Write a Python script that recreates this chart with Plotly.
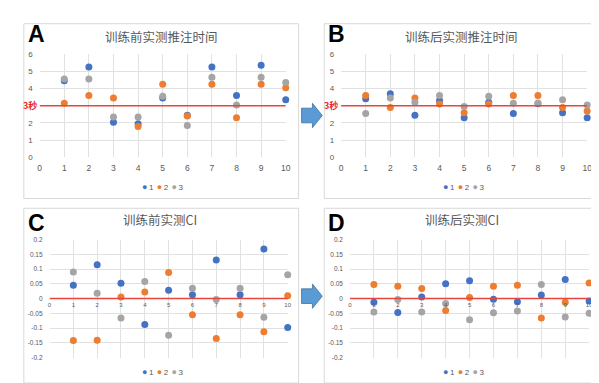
import plotly.graph_objects as go

W, H = 599, 383

# ---------------- data ----------------
xs = [1, 2, 3, 4, 5, 6, 7, 8, 9, 10]
series_names = ["1", "2", "3"]
colors = ["#4472C4", "#ED7D31", "#A5A5A5"]

A1 = [4.45, 5.25, 2.05, 1.95, 3.45, 2.45, 5.25, 3.6, 5.35, 3.35]
A2 = [3.15, 3.6, 3.45, 1.8, 4.25, 2.4, 4.25, 2.3, 4.25, 4.05]
A3 = [4.55, 4.55, 2.35, 2.35, 3.55, 1.85, 4.65, 3.05, 4.65, 4.35]

B1 = [3.4, 3.7, 2.45, 3.3, 2.3, 3.2, 2.55, 3.12, 2.6, 2.3]
B2 = [3.6, 2.9, 3.45, 3.1, 2.6, 3.1, 3.6, 3.6, 2.9, 2.7]
B3 = [2.55, 3.45, 3.2, 3.6, 2.95, 3.55, 3.15, 3.16, 3.35, 3.05]

C1 = [0.045, 0.115, 0.052, -0.088, 0.028, 0.013, 0.131, 0.013, 0.168, -0.098]
C2 = [-0.142, -0.141, 0.005, 0.022, 0.088, -0.055, -0.135, -0.055, -0.112, 0.01]
C3 = [0.09, 0.018, -0.066, 0.058, -0.124, 0.035, -0.003, 0.035, -0.063, 0.081]

D1 = [-0.012, -0.047, 0.005, 0.05, 0.06, -0.002, -0.011, 0.012, 0.065, -0.008]
D2 = [0.048, 0.042, 0.034, -0.04, 0.004, 0.042, 0.045, -0.066, -0.012, 0.053]
D3 = [-0.045, -0.003, -0.045, -0.017, -0.072, -0.048, -0.042, 0.048, -0.062, -0.05]

titles = ["训练前实测推注时间", "训练后实测推注时间", "训练前实测CI", "训练后实测CI"]
letters = ["A", "B", "C", "D"]
time_ticks = [0, 1, 2, 3, 4, 5, 6]
time_ticktext = ["0", "1", "2", "", "4", "5", "6"]
ci_ticks = [-0.2, -0.15, -0.1, -0.05, 0, 0.05, 0.1, 0.15, 0.2]
ci_ticktext = ["-0.2", "-0.15", "-0.1", "-0.05", "0", "0.05", "0.1", "0.15", "0.2"]
x_ticks = [0, 1, 2, 3, 4, 5, 6, 7, 8, 9, 10]
threshold_time = 3
threshold_ci = 0
threshold_label = "3秒"

# ---------------- layout helpers ----------------
def px_x(p):
    return p / W

def px_y(p):
    return 1 - p / H

panels = [
    dict(data=[A1, A2, A3], plot=(30, 279, 43, 149), frame=(14, 292, 12, 191),
         tcx=153, tcy=25, lx=16, ly=23, lgx=154, lgy=179, kind="time"),
    dict(data=[B1, B2, B3], plot=(335, 584, 43, 149), frame=(318, 596, 12, 191),
         tcx=457, tcy=25, lx=320, ly=23, lgx=459, lgy=179, kind="time"),
    dict(data=[C1, C2, C3], plot=(40, 281, 233, 354), frame=(14, 292, 201, 380),
         tcx=152, tcy=213, lx=16, ly=216, lgx=154, lgy=369, kind="ci"),
    dict(data=[D1, D2, D3], plot=(344, 586, 233, 354), frame=(318, 596, 201, 380),
         tcx=457, tcy=213, lx=320, ly=216, lgx=459, lgy=369, kind="ci"),
]

fig = go.Figure()
shapes = []
annotations = []
layout_axes = {}
grid_c = "#E1E1E1"
tick_c = "#595959"
num_font = "Liberation Sans, Arial, sans-serif"
cjk_font = "Noto Sans CJK SC, sans-serif"

legend_text = "&#8201;&#8201;".join(
    f"<span style='color:{c}; font-size:9px'>●</span>&#8201;{n}" for n, c in zip(series_names, colors)
)

for i, p in enumerate(panels):
    k = i + 1
    xa = "x" if k == 1 else f"x{k}"
    ya = "y" if k == 1 else f"y{k}"
    xkey = "xaxis" if k == 1 else f"xaxis{k}"
    ykey = "yaxis" if k == 1 else f"yaxis{k}"
    l, r, t, b = p["plot"]

    # frame
    fl, fr, ft, fb = p["frame"]
    shapes.append(dict(type="rect", xref="paper", yref="paper",
                       x0=px_x(fl), x1=px_x(fr), y0=px_y(fb), y1=px_y(ft),
                       line=dict(color="#D9D9D9", width=1), fillcolor="rgba(0,0,0,0)", layer="below"))

    for vals, nm, col in zip(p["data"], series_names, colors):
        fig.add_trace(go.Scatter(x=xs, y=vals, mode="markers", name=nm,
                                 marker=dict(color=col, size=7, line=dict(width=0)),
                                 cliponaxis=False,
                                 xaxis=xa, yaxis=ya, showlegend=False))

    if p["kind"] == "time":
        yr = [0, 6]
        yt, ytt = time_ticks, time_ticktext
        thr = threshold_time
        yfont = 8
        xaxis = dict(domain=[px_x(l), px_x(r)], range=[0, 10], tickvals=x_ticks,
                     showgrid=True, gridcolor=grid_c, gridwidth=1, zeroline=False,
                     showline=False, ticks="", tickfont=dict(size=8.5, color=tick_c, family=num_font),
                     ticklabelstandoff=4, anchor=ya, fixedrange=True)
    else:
        yr = [-0.2, 0.2]
        yt, ytt = ci_ticks, ci_ticktext
        thr = threshold_ci
        yfont = 6.5
        zero_px = t + (b - t) * 0.5
        xaxis = dict(domain=[px_x(l), px_x(r)], range=[0, 10], tickvals=x_ticks,
                     showgrid=True, gridcolor=grid_c, gridwidth=1, zeroline=False,
                     showline=False, ticks="", tickfont=dict(size=6, color=tick_c, family=num_font),
                     ticklabelstandoff=1, anchor="free", position=px_y(zero_px), fixedrange=True)
    yaxis = dict(domain=[px_y(b), px_y(t)], range=yr, tickvals=yt, ticktext=ytt,
                 showgrid=True, gridcolor=grid_c, gridwidth=1, zeroline=False, showline=False,
                 ticks="", tickfont=dict(size=yfont, color=tick_c, family=num_font),
                 ticklabelstandoff=6, anchor=xa, fixedrange=True)
    layout_axes[xkey] = xaxis
    layout_axes[ykey] = yaxis

    # threshold line
    shapes.append(dict(type="line", xref=xa, yref=ya, x0=0, x1=10, y0=thr, y1=thr,
                       line=dict(color="#E8453C", width=1.5), layer="above"))
    if p["kind"] == "time":
        annotations.append(dict(xref="paper", yref=ya, x=px_x(l - 1), y=thr,
                                text=f"<b>{threshold_label}</b>",
                                showarrow=False, xanchor="right", yanchor="middle",
                                font=dict(size=9, color="#E8252B", family=cjk_font)))

    # title
    annotations.append(dict(xref="paper", yref="paper", x=px_x(p["tcx"]), y=px_y(p["tcy"]),
                            text=titles[i], showarrow=False, xanchor="center", yanchor="middle",
                            font=dict(size=12.5, color=tick_c, family=cjk_font)))
    # panel letter
    annotations.append(dict(xref="paper", yref="paper", x=px_x(p["lx"]), y=px_y(p["ly"]),
                            text=f"<b>{letters[i]}</b>", showarrow=False, xanchor="left", yanchor="middle",
                            font=dict(size=23, color="black", family=num_font)))
    # legend
    annotations.append(dict(xref="paper", yref="paper", x=px_x(p["lgx"]), y=px_y(p["lgy"]),
                            text=legend_text, showarrow=False, xanchor="center", yanchor="middle",
                            font=dict(size=8, color=tick_c, family=num_font)))

# arrows between panels
def arrow(cy):
    bx0, bx1, hx1 = 295, 306, 316
    bh, hh = 7.5, 12.5
    pts = [(bx0, cy - bh), (bx1, cy - bh), (bx1, cy - hh), (hx1, cy), (bx1, cy + hh),
           (bx1, cy + bh), (bx0, cy + bh)]
    path = "M " + " L ".join(f"{px_x(a):.5f},{px_y(c):.5f}" for a, c in pts) + " Z"
    return dict(type="path", xref="paper", yref="paper", path=path,
                fillcolor="#5B9BD5", line=dict(color="#41719C", width=0.8), layer="above")

shapes.append(arrow(106))
shapes.append(arrow(291))

fig.update_layout(width=W, height=H, margin=dict(l=0, r=0, t=0, b=0),
                  paper_bgcolor="white", plot_bgcolor="white", showlegend=False,
                  shapes=shapes, annotations=annotations, **layout_axes)

fig.write_html("out.html")
